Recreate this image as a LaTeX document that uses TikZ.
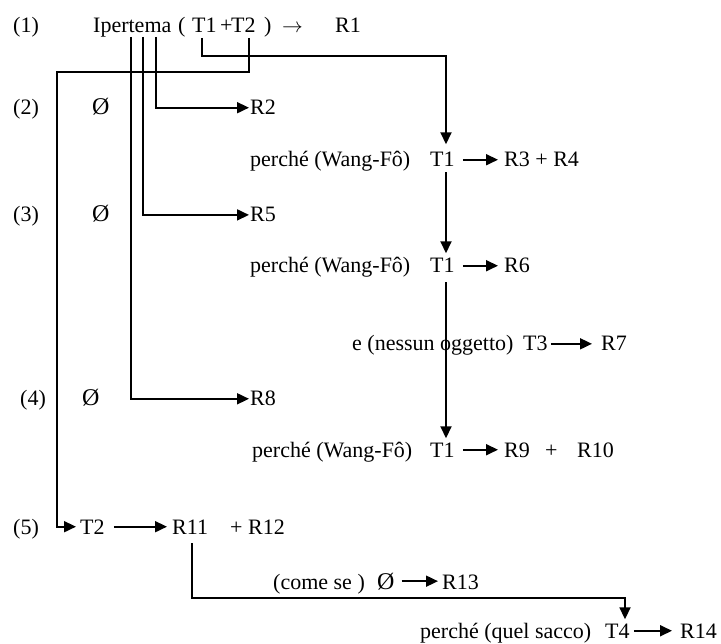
\documentclass[tikz,border=0pt]{standalone}
\usepackage{fontspec}
\setmainfont{Liberation Serif}
\usetikzlibrary{arrows.meta}
\tikzset{
  txt/.style={inner sep=0pt, anchor=base west, font=\fontsize{22}{26}\selectfont},
  empt/.style={txt, font=\fontsize{24}{28}\selectfont},
  ln/.style={line width=1.8pt},
  arr/.style={ln, -{Triangle[length=12pt,width=11pt]}},
}
\begin{document}
\begin{tikzpicture}[x=1pt,y=-1pt]
\useasboundingbox (0,0) rectangle (721,644);

% row 1
\node[txt] (n1) at (13,33) {(1)};
\node[txt] (ipt) at (93,33) {Ipertema};
\node[txt] (lp) at (178,33) {(};
\node[txt] (t1top) at (192,33) {T1};
\node[txt] (plus) at (220,33) {+};
\node[txt] (t2top) at (231,33) {T2};
\node[txt] (rp) at (264,33) {)};
\node[txt] (ar1) at (282,33) {$\rightarrow$};
\node[txt] (r1) at (335,33) {R1};

% row 2
\node[txt] (n2) at (13,115) {(2)};
\node[empt] (e2) at (92,115) {Ø};
\node[txt] (r2) at (250,115) {R2};

% row A
\node[txt] (pa) at (250,167) {perché (Wang-Fô)};
\node[txt] (ta) at (430,167) {T1};
\node[txt] (r34) at (504,167) {R3 + R4};

% row 3
\node[txt] (n3) at (13,222) {(3)};
\node[empt] (e3) at (92,222) {Ø};
\node[txt] (r5) at (250,222) {R5};

% row B
\node[txt] (pb) at (250,273) {perché (Wang-Fô)};
\node[txt] (tb) at (430,273) {T1};
\node[txt] (r6) at (504,273) {R6};

% row C
\node[txt] (pc) at (352,351) {e (nessun oggetto)};
\node[txt] (t3) at (523,351) {T3};
\node[txt] (r7) at (601,351) {R7};

% row 4
\node[txt] (n4) at (20,406) {(4)};
\node[empt] (e4) at (82,406) {Ø};
\node[txt] (r8) at (250,406) {R8};

% row D
\node[txt] (pd) at (252,457) {perché (Wang-Fô)};
\node[txt] (td) at (430,457) {T1};
\node[txt] (r9) at (504,457) {R9};
\node[txt] (pl) at (545,457) {+};
\node[txt] (r10) at (577,457) {R10};

% row 5
\node[txt] (n5) at (13,534) {(5)};
\node[txt] (t2) at (80,534) {T2};
\node[txt] (r11) at (172,534) {R11};
\node[txt] (pl2) at (230,534) {+};
\node[txt] (r12) at (248,534) {R12};

% row E
\node[txt] (cs) at (273,589) {(come se )};
\node[empt] (e5) at (377,589) {Ø};
\node[txt] (r13) at (442,589) {R13};

% row F
\node[txt] (pf) at (420,638) {perché (quel sacco)};
\node[txt] (t4) at (605,638) {T4};
\node[txt] (r14) at (680,638) {R14};

% connector points
\coordinate (a1) at (131,37);
\coordinate (a2) at (143,37);
\coordinate (a3) at (156,37);
\coordinate (b1) at (202,38);
\coordinate (b2) at (249,38);
\coordinate (k1) at (446,56);
\coordinate (k2) at (249,72);
\coordinate (k3) at (57,72);
\coordinate (k4) at (192,598);
\coordinate (k5) at (625,598);

% connectors from Ipertema
\draw[arr, shorten >=1pt] (a3) |- (r2.west);
\draw[arr, shorten >=1pt] (a2) |- (r5.west);
\draw[arr, shorten >=1pt] (a1) |- (r8.west);

% T1 chain
\draw[arr, shorten >=8pt] (b1) |- (k1) -- (ta.north -| k1);
\draw[arr, shorten <=5pt, shorten >=5pt] (ta.south -| k1) -- (tb.north -| k1);
\draw[arr, shorten <=9pt, shorten >=4pt] (tb.south -| k1) -- (td.north -| k1);

% T2 chain
\draw[arr, shorten >=4pt] (b2) -- (k2) -- (k3) |- (t2.west);

% horizontal arrows
\draw[arr, shorten <=8pt, shorten >=6pt] (ta.east) -- (r34.west |- ta.east);
\draw[arr, shorten <=8pt, shorten >=6pt] (tb.east) -- (r6.west |- tb.east);
\draw[arr, shorten <=8pt, shorten >=6pt] (td.east) -- (r9.west |- td.east);
\draw[arr, shorten <=3pt, shorten >=9pt] (t3.east) -- (r7.west |- t3.east);
\draw[arr, shorten <=9pt, shorten >=5pt] (t2.east) -- (r11.west |- t2.east);
\draw[arr, shorten <=7pt, shorten >=4pt] (e5.east) -- (r13.west |- e5.east);
\draw[arr, shorten <=4pt, shorten >=8pt] (t4.east) -- (r14.west |- t4.east);

% R11 to T4
\draw[arr, shorten <=9pt, shorten >=4pt] (r11.south -| k4) -- (k4) -- (k5) -- (t4.north -| k5);
\end{tikzpicture}
\end{document}
